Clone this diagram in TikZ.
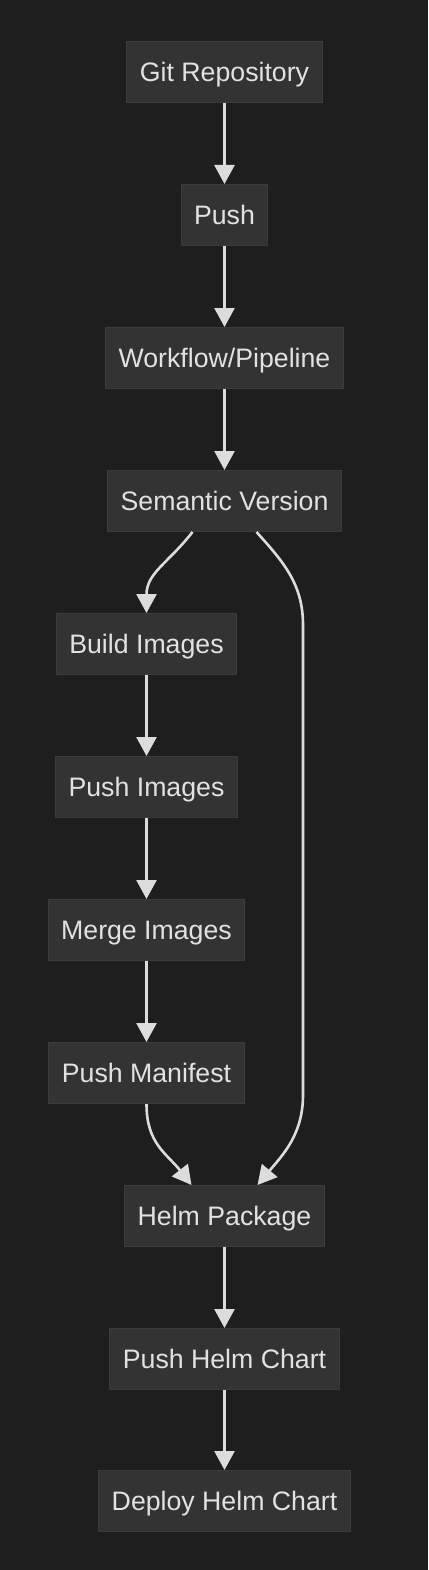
\documentclass[tikz,border=0pt]{standalone}
\usepackage{fontspec}
\setmainfont{Liberation Sans}
\usetikzlibrary{arrows.meta,positioning}

\definecolor{canvas}{HTML}{1E1E1E}
\definecolor{boxfill}{HTML}{333333}
\definecolor{boxline}{HTML}{3C3C3C}
\definecolor{ink}{HTML}{E2E2E2}
\definecolor{wire}{HTML}{DCDCDC}

\begin{document}
\begin{tikzpicture}[
	x=1pt, y=-1pt,
	font=\fontsize{26.7}{30}\selectfont,
	>={Triangle[length=19pt, width=20pt]},
	stage/.style={
		rectangle, draw=boxline, fill=boxfill, line width=1pt,
		text=ink, minimum height=61pt, inner xsep=13pt,
		text height=19pt, text depth=0pt
	},
	arr/.style={->, line width=2.6pt, draw=wire}
]

% Background and fixed frame
\fill[canvas] (0,0) rectangle (428,1570);
\useasboundingbox (0,0) rectangle (428,1570);

% Main spine x=224.5
\node[stage] (git)   at (224.5,   72) {Git Repository};
\node[stage] (push)  at (224.5,  215) {Push};
\node[stage] (flow)  at (224.5,  358) {Workflow/Pipeline};
\node[stage] (sem)   at (224.5,  501) {Semantic Version};

% Image branch x=146.5
\node[stage] (build) at (146.5,  644) {Build Images};
\node[stage] (pimg)  at (146.5,  787) {Push Images};
\node[stage] (merge) at (146.5,  930) {Merge Images};
\node[stage] (mani)  at (146.5, 1073) {Push Manifest};

% Helm tail
\node[stage] (helm)  at (224.5, 1216) {Helm Package};
\node[stage] (chart) at (224.5, 1359) {Push Helm Chart};
\node[stage] (dep)   at (224.5, 1501) {Deploy Helm Chart};

\draw[arr] (git) -- (push);
\draw[arr] (push) -- (flow);
\draw[arr] (flow) -- (sem);

\draw[arr] ([xshift=-32pt]sem.south) to[out=-128, in=90, looseness=1.1] (build.north);
\draw[arr] (build) -- (pimg);
\draw[arr] (pimg) -- (merge);
\draw[arr] (merge) -- (mani);
\draw[arr] (mani.south) to[out=-90, in=128, looseness=1.1] ([xshift=-33pt]helm.north);

% Bypass on the right x=303
\coordinate (byA) at (303, 625);
\coordinate (byB) at (303, 1095);
\draw[arr] ([xshift=32pt]sem.south) to[out=-48, in=90] (byA) -- (byB)
	to[out=-90, in=50] ([xshift=33pt]helm.north);

\draw[arr] (helm) -- (chart);
\draw[arr] (chart) -- (dep);

\end{tikzpicture}
\end{document}
